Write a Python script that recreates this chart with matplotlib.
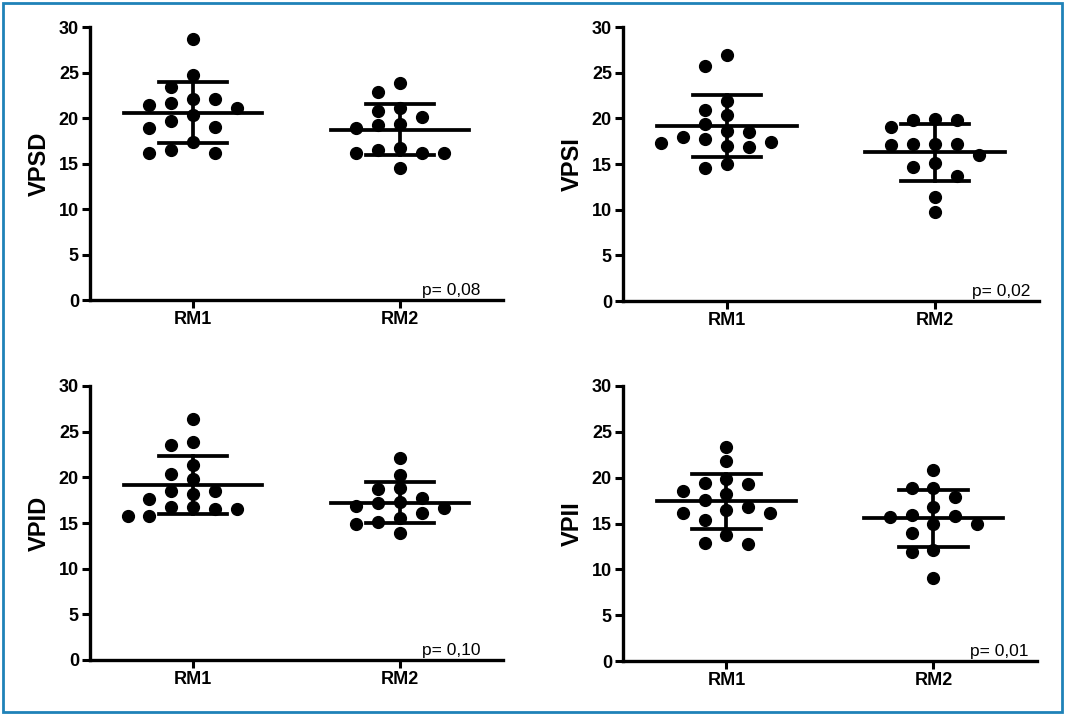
import matplotlib
matplotlib.use('Agg')
import matplotlib.pyplot as plt
from matplotlib.patches import Rectangle
import numpy as np

plt.rcParams['font.family'] = ['Liberation Sans', 'DejaVu Sans']

groups = ['RM1', 'RM2']
panel_names = ['VPSD', 'VPSI', 'VPID', 'VPII']
p_values = ['p= 0,08', 'p= 0,02', 'p= 0,10', 'p= 0,01']

# valores
vpsd_rm1 = [28.7, 24.7, 23.4, 22.1, 21.7, 21.4, 22.1, 21.1, 20.3, 19.7, 18.9, 19.0, 17.4, 16.2, 16.2, 16.5]
vpsd_rm2 = [23.8, 22.9, 20.8, 21.1, 20.1, 19.3, 19.2, 18.9, 16.7, 16.2, 16.5, 16.1, 16.2, 14.5]
vpsi_rm1 = [26.9, 25.7, 21.9, 20.9, 20.4, 19.4, 18.0, 18.5, 18.6, 17.3, 17.0, 16.9, 17.4, 17.7, 14.6, 15.0]
vpsi_rm2 = [19.9, 19.1, 19.8, 19.8, 17.1, 17.2, 17.2, 17.2, 16.0, 15.1, 14.7, 13.7, 11.4, 9.7]
vpid_rm1 = [26.4, 23.9, 23.5, 21.3, 20.4, 19.8, 18.2, 18.5, 18.5, 17.6, 15.8, 16.7, 16.5, 16.7, 15.8, 16.5]
vpid_rm2 = [22.1, 20.3, 18.8, 18.7, 17.2, 17.3, 16.9, 17.7, 16.1, 16.6, 15.5, 15.1, 14.9, 13.9]
vpii_rm1 = [23.3, 21.8, 19.9, 19.4, 18.2, 18.5, 19.3, 16.5, 16.8, 16.2, 17.6, 16.2, 15.4, 13.7, 12.8, 12.9]
vpii_rm2 = [20.8, 18.9, 18.9, 17.9, 16.8, 15.8, 15.7, 15.9, 15.0, 14.9, 14.0, 12.1, 11.9, 9.1]

data = [(vpsd_rm1, vpsd_rm2), (vpsi_rm1, vpsi_rm2), (vpid_rm1, vpid_rm2), (vpii_rm1, vpii_rm2)]


def swarm(vals, slot=0.106, min_gap=1.5):
    # espalha os pontos em colunas para nao sobrepor
    vals = np.asarray(vals, dtype=float)
    order = np.argsort(-vals)
    offs = np.zeros(len(vals))
    placed = []
    cands = [0, -1, 1, -2, 2, -3, 3, -4, 4]
    for i in order:
        for k in cands:
            ok = True
            for (k2, v2) in placed:
                if k2 == k and abs(v2 - vals[i]) < min_gap:
                    ok = False
                    break
            if ok:
                offs[i] = k * slot
                placed.append((k, vals[i]))
                break
    return offs


fig = plt.figure(figsize=(10.65, 7.14), dpi=100)

W, H = 1065.0, 714.0
boxes = [(90, 27, 413, 273), (623, 27, 416, 274), (90, 386, 413, 274), (623, 386, 414, 275)]
p_x = [0.945, 0.98, 0.945, 0.98]

for n in range(4):
    x0, y0, w, h = boxes[n]
    ax = fig.add_axes([x0 / W, 1 - (y0 + h) / H, w / W, h / H])
    for g in range(2):
        vals = np.array(data[n][g])
        xc = g + 1
        offs = swarm(vals)
        ax.plot(xc + offs, vals, 'o', color='black', markersize=8.5, clip_on=False, zorder=3)
        m = vals.mean()
        sd = vals.std(ddof=1)
        ax.plot([xc - 0.335, xc + 0.335], [m, m], color='black', lw=2.7, zorder=4)
        ax.plot([xc, xc], [m - sd, m + sd], color='black', lw=2.7, zorder=4)
        ax.plot([xc - 0.165, xc + 0.165], [m + sd, m + sd], color='black', lw=2.7, zorder=4)
        ax.plot([xc - 0.165, xc + 0.165], [m - sd, m - sd], color='black', lw=2.7, zorder=4)

    ax.set_xlim(0.5, 2.5)
    ax.set_ylim(0, 30)
    ax.set_yticks([0, 5, 10, 15, 20, 25, 30])
    ax.set_xticks([1, 2])
    ax.set_xticklabels(groups, fontsize=13, fontweight='bold')
    for lab in ax.get_yticklabels():
        lab.set_fontsize(13)
        lab.set_fontweight('bold')
    ax.spines['top'].set_visible(False)
    ax.spines['right'].set_visible(False)
    ax.spines['left'].set_linewidth(2.4)
    ax.spines['bottom'].set_linewidth(2.4)
    ax.tick_params(axis='both', width=2.2, length=6, pad=2)
    ax.set_ylabel(panel_names[n], fontsize=17, fontweight='bold', labelpad=6)
    ax.text(p_x[n], 0.008, p_values[n], transform=ax.transAxes, ha='right', va='bottom', fontsize=12.5)

# moldura azul
fig.patches.append(Rectangle((2.5 / W, 2.5 / H), 1 - 5.5 / W, 1 - 5.5 / H, transform=fig.transFigure,
                             fill=False, edgecolor='#1f82b8', linewidth=2, zorder=10))

fig.savefig('out.png', dpi=100, facecolor='white')
